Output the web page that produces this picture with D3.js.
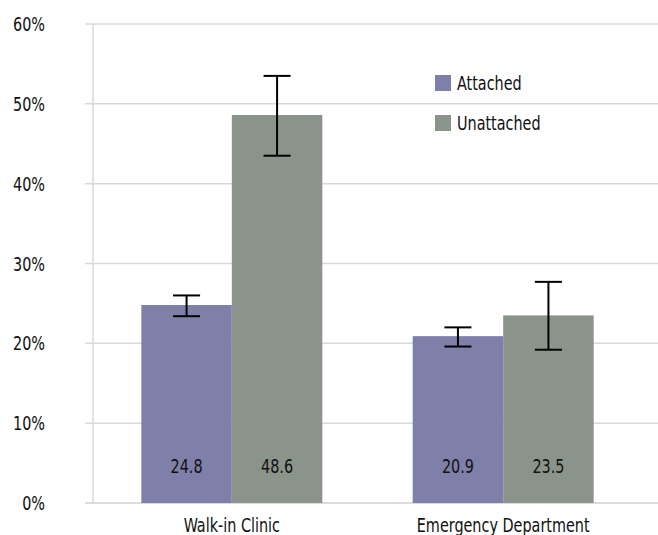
<!DOCTYPE html>
<html><head><meta charset="utf-8">
<script src="https://cdn.jsdelivr.net/npm/d3@7"></script>
<style>
body{margin:0;background:#fff;}
text{font-family:"DejaVu Sans Condensed","Liberation Sans Narrow",sans-serif;fill:#111;font-size:20px;}
</style></head>
<body><svg id="c" width="658" height="535"></svg>
<script>
const categories = ["Walk-in Clinic", "Emergency Department"];
const seriesNames = ["Attached", "Unattached"];
const attached = [24.8, 20.9];
const unattached = [48.6, 23.5];
const attachedLow = [23.4, 19.6];
const attachedHigh = [26.0, 22.0];
const unattachedLow = [43.5, 19.2];
const unattachedHigh = [53.5, 27.7];
const yTicks = [0, 10, 20, 30, 40, 50, 60];
const colors = ["#7f80aa", "#8b948b"];

const SX = 0.8; // horizontal condensing of text
const place = (sel, fx, fy) => sel.attr("transform", (d, i) => `translate(${fx(d, i)},${fy(d, i)}) scale(${SX},1)`);

const svg = d3.select("#c");
const y = d3.scaleLinear().domain([0, 60]).range([503, 24]);
const x0 = d3.scaleBand().domain(categories).range([96, 639]).paddingInner(0.333).paddingOuter(0.167);
const x1 = d3.scaleBand().domain(seriesNames).range([0, x0.bandwidth()]);

// gridlines
svg.append("g").selectAll("line").data(yTicks.filter(d => d > 0)).join("line")
  .attr("x1", 85).attr("x2", 658).attr("y1", d => y(d)).attr("y2", d => y(d))
  .attr("stroke", "#d9d9d9").attr("stroke-width", 1.5);
// y axis line
svg.append("line").attr("x1", 93).attr("x2", 93).attr("y1", y(60)).attr("y2", y(0))
  .attr("stroke", "#d9d9d9").attr("stroke-width", 1.5);
// x axis line
svg.append("line").attr("x1", 85).attr("x2", 658).attr("y1", y(0)).attr("y2", y(0))
  .attr("stroke", "#cfcfcf").attr("stroke-width", 1.5);

// y tick labels
place(svg.append("g").selectAll("text").data(yTicks).join("text"), () => 45, d => y(d) + 7)
  .attr("text-anchor", "end").text(d => d + "%");

const rows = categories.map((c, i) => [
  {cat: c, s: seriesNames[0], v: attached[i], lo: attachedLow[i], hi: attachedHigh[i], col: colors[0]},
  {cat: c, s: seriesNames[1], v: unattached[i], lo: unattachedLow[i], hi: unattachedHigh[i], col: colors[1]}
]).flat();

const g = svg.append("g");
g.selectAll("rect").data(rows).join("rect")
  .attr("x", d => x0(d.cat) + x1(d.s)).attr("width", x1.bandwidth())
  .attr("y", d => y(d.v)).attr("height", d => y(0) - y(d.v))
  .attr("fill", d => d.col);

// value labels
place(g.selectAll("text.val").data(rows).join("text").attr("class", "val"),
  d => x0(d.cat) + x1(d.s) + x1.bandwidth() / 2, () => 473)
  .attr("text-anchor", "middle").text(d => d.v.toFixed(1));

// error bars
const eb = g.selectAll("g.eb").data(rows).join("g").attr("class", "eb")
  .attr("transform", d => `translate(${x0(d.cat) + x1(d.s) + x1.bandwidth() / 2},0)`);
eb.append("line").attr("x1", 0).attr("x2", 0).attr("y1", d => y(d.hi)).attr("y2", d => y(d.lo))
  .attr("stroke", "#000").attr("stroke-width", 2);
eb.append("line").attr("x1", -13.5).attr("x2", 13.5).attr("y1", d => y(d.hi)).attr("y2", d => y(d.hi))
  .attr("stroke", "#000").attr("stroke-width", 2);
eb.append("line").attr("x1", -13.5).attr("x2", 13.5).attr("y1", d => y(d.lo)).attr("y2", d => y(d.lo))
  .attr("stroke", "#000").attr("stroke-width", 2);

// category labels
place(svg.append("g").selectAll("text").data(categories).join("text"),
  d => x0(d) + x0.bandwidth() / 2, () => 532)
  .attr("text-anchor", "middle").text(d => d);

// legend
const leg = svg.append("g").selectAll("g").data(seriesNames).join("g")
  .attr("transform", (d, i) => `translate(435,${75 + i * 40})`);
leg.append("rect").attr("width", 16).attr("height", 16).attr("fill", (d, i) => colors[i]);
place(leg.append("text"), () => 22, () => 15).text(d => d);
</script></body></html>
